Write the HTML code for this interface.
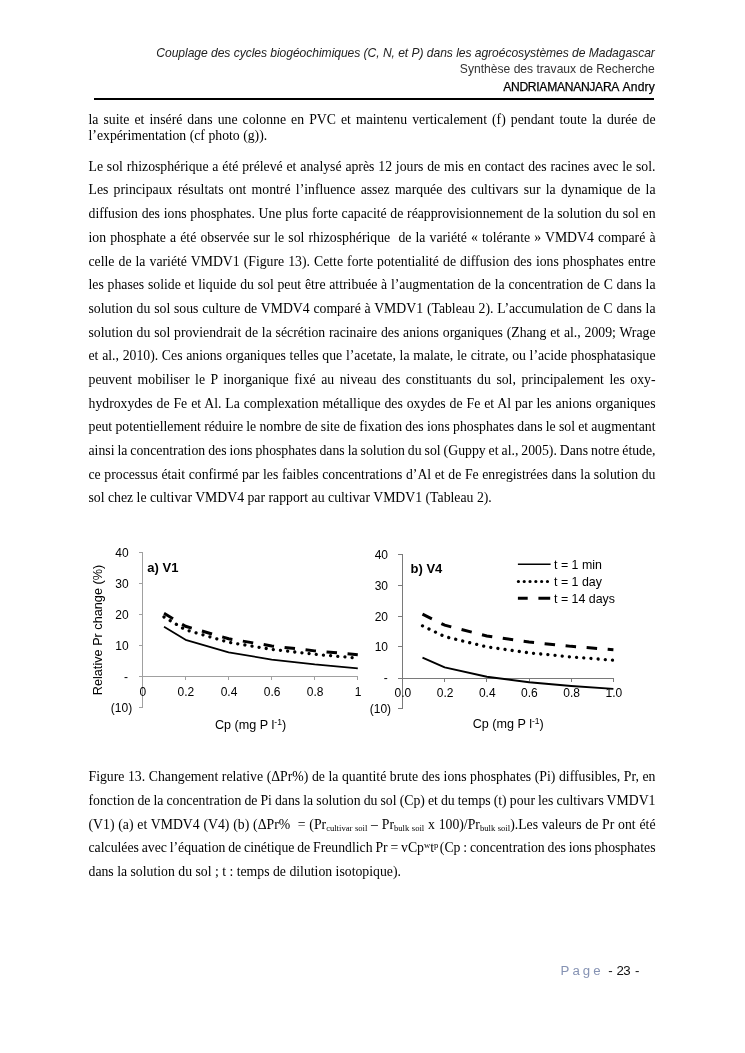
<!DOCTYPE html>
<html><head><meta charset="utf-8"><title>page</title>
<style>
html,body{margin:0;padding:0;background:#fff;}
body{width:745px;height:1053px;position:relative;overflow:hidden;font-family:"Liberation Serif",serif;color:#000;}
.l{position:absolute;left:88.5px;width:567px;font-size:13.75px;line-height:20px;height:20px;white-space:nowrap;}
.l sub,.l sup{font-size:8.6px;line-height:0;}
.l sub{vertical-align:-2px;}
.l sup{vertical-align:4px;}
.h{position:absolute;right:90.2px;font-family:"Liberation Sans",sans-serif;white-space:nowrap;text-align:right;line-height:18px;height:18px;}
svg{position:absolute;left:0;top:0;}
svg text{font-family:"Liberation Sans",sans-serif;}
#w{position:absolute;left:0;top:0;width:745px;height:1053px;will-change:transform;}
</style></head><body><div id="w">

<div class="h" id="h1" style="top:43.81px;font-size:12.1px;font-style:italic;color:#222;letter-spacing:-0.05px;">Couplage des cycles biogéochimiques (C, N, et P) dans les agroécosystèmes de Madagascar</div>
<div class="h" id="h2" style="top:60.21px;font-size:12.1px;color:#333;letter-spacing:0.0px;">Synthèse des travaux de Recherche</div>
<div class="h" id="h3" style="top:77.61px;font-size:12.1px;color:#000;-webkit-text-stroke:0.25px #000;"><span style="letter-spacing:-0.29px;">ANDRIAMANANJARA</span><span style="letter-spacing:0.12px;margin-left:0.7px;"> Andry</span></div>
<div style="position:absolute;left:94px;top:98px;width:560px;height:2px;background:#000;"></div>
<div class="l" style="top:110.00px;word-spacing:1.618px;"><span>la suite et inséré dans une colonne en PVC et maintenu verticalement (f) pendant toute la durée de</span></div>
<div class="l" style="top:126.00px;word-spacing:0.000px;"><span>l’expérimentation (cf photo (g)).</span></div>
<div class="l" style="top:157.00px;word-spacing:0.424px;"><span>Le sol rhizosphérique a été prélevé et analysé après 12 jours de mis en contact des racines avec le sol.</span></div>
<div class="l" style="top:180.00px;word-spacing:1.827px;"><span>Les principaux résultats ont montré l’influence assez marquée des cultivars sur la dynamique de la</span></div>
<div class="l" style="top:204.00px;word-spacing:0.293px;"><span>diffusion des ions phosphates. Une plus forte capacité de réapprovisionnement de la solution du sol en</span></div>
<div class="l" style="top:228.00px;word-spacing:0.672px;"><span>ion phosphate a été observée sur le sol rhizosphérique&nbsp; de la variété «&nbsp;tolérante&nbsp;» VMDV4 comparé à</span></div>
<div class="l" style="top:252.00px;word-spacing:0.617px;"><span>celle de la variété VMDV1 (Figure 13). Cette forte potentialité de diffusion des ions phosphates entre</span></div>
<div class="l" style="top:275.00px;word-spacing:0.318px;"><span>les phases solide et liquide du sol peut être attribuée à l’augmentation de la concentration de C dans la</span></div>
<div class="l" style="top:299.00px;word-spacing:0.357px;"><span>solution du sol sous culture de VMDV4 comparé à VMDV1 (Tableau 2). L’accumulation de C dans la</span></div>
<div class="l" style="top:323.00px;word-spacing:0.374px;"><span>solution du sol proviendrait de la sécrétion racinaire des anions organiques (Zhang et al., 2009; Wrage</span></div>
<div class="l" style="top:346.00px;word-spacing:0.272px;"><span>et al., 2010). Ces anions organiques telles que l’acetate, la malate, le citrate, ou l’acide phosphatasique</span></div>
<div class="l" style="top:370.00px;word-spacing:2.123px;"><span>peuvent mobiliser le P inorganique fixé au niveau des constituants du sol, principalement les oxy-</span></div>
<div class="l" style="top:394.00px;word-spacing:0.483px;"><span>hydroxydes de Fe et Al. La complexation métallique des oxydes de Fe et Al par les anions organiques</span></div>
<div class="l" style="top:417.00px;word-spacing:-0.218px;"><span>peut potentiellement réduire le nombre de site de fixation des ions phosphates dans le sol et augmentant</span></div>
<div class="l" style="top:441.00px;word-spacing:-0.454px;"><span>ainsi la concentration des ions phosphates dans la solution du sol (Guppy et al., 2005). Dans notre étude,</span></div>
<div class="l" style="top:465.00px;word-spacing:0.167px;"><span>ce processus était confirmé par les faibles concentrations d’Al et de Fe enregistrées dans la solution du</span></div>
<div class="l" style="top:488.00px;word-spacing:0.000px;"><span>sol chez le cultivar VMDV4 par rapport au cultivar VMDV1 (Tableau 2).</span></div>
<div class="l" style="top:767.00px;word-spacing:0.146px;"><span>Figure 13. Changement relative (ΔPr%) de la quantité brute des ions phosphates (Pi) diffusibles, Pr, en</span></div>
<div class="l" style="top:791.00px;word-spacing:-0.354px;"><span>fonction de la concentration de Pi dans la solution du sol (Cp) et du temps (t) pour les cultivars VMDV1</span></div>
<div class="l" style="top:815.00px;word-spacing:0.359px;"><span>(V1) (a) et VMDV4 (V4) (b) (ΔPr%&nbsp; = (Pr<sub>cultivar soil</sub> – Pr<sub>bulk soil</sub> x 100)/Pr<sub>bulk soil</sub>).Les valeurs de Pr ont été</span></div>
<div class="l" style="top:838.00px;word-spacing:-0.626px;"><span>calculées avec l’équation de cinétique de Freundlich Pr = vCp<sup>w</sup>t<sup>p </sup>(Cp : concentration des ions phosphates</span></div>
<div class="l" style="top:862.00px;word-spacing:0.000px;"><span>dans la solution du sol ; t : temps de dilution isotopique).</span></div>
<div style="position:absolute;top:961.5px;left:0;font-family:'Liberation Sans',sans-serif;font-size:13.25px;line-height:18px;white-space:nowrap;color:#111;"><span style="position:absolute;left:560.6px;color:#8592b3;letter-spacing:3.0px;">Page</span><span style="position:absolute;left:608.2px;">-</span><span style="position:absolute;left:616.6px;letter-spacing:-0.6px;">23</span><span style="position:absolute;left:635.0px;">-</span></div>
<svg width="745" height="1053" viewBox="0 0 745 1053">
<g stroke="#a0a0a0" stroke-width="1" fill="none" shape-rendering="crispEdges">
<path d="M142.50 552.20V707.70"/>
<path d="M142.50 676.30H358.30"/>
<path d="M138.70 552.70H142.50"/>
<path d="M138.70 583.60H142.50"/>
<path d="M138.70 614.50H142.50"/>
<path d="M138.70 645.40H142.50"/>
<path d="M138.70 676.30H142.50"/>
<path d="M138.70 707.20H142.50"/>
<path d="M185.56 676.30V680.10"/>
<path d="M228.62 676.30V680.10"/>
<path d="M271.68 676.30V680.10"/>
<path d="M314.74 676.30V680.10"/>
<path d="M357.80 676.30V680.10"/>
</g>
<g font-size="12" fill="#000" text-anchor="end">
<text x="128.60" y="557.00">40</text>
<text x="128.60" y="587.90">30</text>
<text x="128.60" y="618.80">20</text>
<text x="128.60" y="649.70">10</text>
<text x="128.10" y="681.20">-</text>
<text x="132.20" y="711.50">(10)</text>
</g>
<g font-size="12" fill="#000" text-anchor="middle">
<text x="142.90" y="696.10">0</text>
<text x="185.96" y="696.10">0.2</text>
<text x="229.02" y="696.10">0.4</text>
<text x="272.08" y="696.10">0.6</text>
<text x="315.14" y="696.10">0.8</text>
<text x="358.20" y="696.10">1</text>
</g>
<path d="M164.03 626.87 L185.56 639.87 L228.62 652.40 L271.68 659.52 L314.74 664.47 L357.80 668.27" fill="none" stroke="#000" stroke-width="1.75" stroke-linejoin="round"/>
<path d="M164.03 616.96 L185.56 629.85 L228.62 642.29 L271.68 649.36 L314.74 654.29 L357.80 658.07" fill="none" stroke="#000" stroke-width="3.3" stroke-linecap="round" stroke-dasharray="0.01 7.19"/>
<path d="M164.03 613.30 L185.56 626.27 L228.62 638.79 L271.68 645.91 L314.74 650.87 L357.80 654.67" fill="none" stroke="#000" stroke-width="3.0" stroke-dasharray="10.5 10.6"/>
<g stroke="#7a7a7a" stroke-width="1" fill="none" shape-rendering="crispEdges">
<path d="M402.50 554.00V709.00"/>
<path d="M402.50 678.40H613.90"/>
<path d="M398.10 554.50H402.50"/>
<path d="M398.10 585.50H402.50"/>
<path d="M398.10 616.50H402.50"/>
<path d="M398.10 646.50H402.50"/>
<path d="M398.10 678.50H402.50"/>
<path d="M398.10 708.50H402.50"/>
<path d="M444.68 678.40V682.20"/>
<path d="M486.86 678.40V682.20"/>
<path d="M529.04 678.40V682.20"/>
<path d="M571.22 678.40V682.20"/>
<path d="M613.40 678.40V682.20"/>
</g>
<g font-size="12" fill="#000" text-anchor="end">
<text x="388.00" y="558.80">40</text>
<text x="388.00" y="589.80">30</text>
<text x="388.00" y="620.80">20</text>
<text x="388.00" y="650.80">10</text>
<text x="387.70" y="681.70">-</text>
<text x="391.10" y="712.80">(10)</text>
</g>
<g font-size="12" fill="#000" text-anchor="middle">
<text x="402.90" y="697.00">0.0</text>
<text x="445.08" y="697.00">0.2</text>
<text x="487.26" y="697.00">0.4</text>
<text x="529.44" y="697.00">0.6</text>
<text x="571.62" y="697.00">0.8</text>
<text x="613.80" y="697.00">1.0</text>
</g>
<path d="M422.49 657.54 L444.68 667.31 L486.86 676.80 L529.04 682.21 L571.22 686.00 L613.40 688.91" fill="none" stroke="#000" stroke-width="1.9" stroke-linejoin="round"/>
<path d="M422.49 625.86 L444.68 636.55 L486.86 646.92 L529.04 652.85 L571.22 656.99 L613.40 660.17" fill="none" stroke="#000" stroke-width="3.3" stroke-linecap="round" stroke-dasharray="0.01 7.19"/>
<path d="M422.49 614.13 L444.68 625.20 L486.86 635.95 L529.04 642.08 L571.22 646.37 L613.40 649.66" fill="none" stroke="#000" stroke-width="3.0" stroke-dasharray="10.5 10.6"/>
<text x="147.3" y="572.2" font-size="13" font-weight="bold" fill="#000">a) V1</text>
<text x="410.5" y="573.0" font-size="13" font-weight="bold" fill="#000">b) V4</text>
<text transform="translate(102.3 630) rotate(-90)" text-anchor="middle" font-size="12.7" fill="#000">Relative Pr change (%)</text>
<text x="215.0" y="729" font-size="12.6" fill="#000">Cp (mg P l<tspan font-size="8.6" dy="-4.2">-1</tspan><tspan dy="4.2">)</tspan></text>
<text x="472.7" y="728" font-size="12.6" fill="#000">Cp (mg P l<tspan font-size="8.6" dy="-4.2">-1</tspan><tspan dy="4.2">)</tspan></text>
<path d="M517.9 564.3H550.6" stroke="#000" stroke-width="1.6" fill="none"/>
<path d="M518.4 581.5H548" stroke="#000" stroke-width="3.2" stroke-linecap="round" stroke-dasharray="0.01 5.8" fill="none"/>
<path d="M517.9 598.3H550.2" stroke="#000" stroke-width="3.0" stroke-dasharray="9.8 10.7 11.8 20" fill="none"/>
<g font-size="12.4" fill="#000">
<text x="554" y="568.7">t = 1 min</text>
<text x="554" y="585.9">t = 1 day</text>
<text x="554" y="603.1">t = 14 days</text>
</g>
</svg>
</div></body></html>
